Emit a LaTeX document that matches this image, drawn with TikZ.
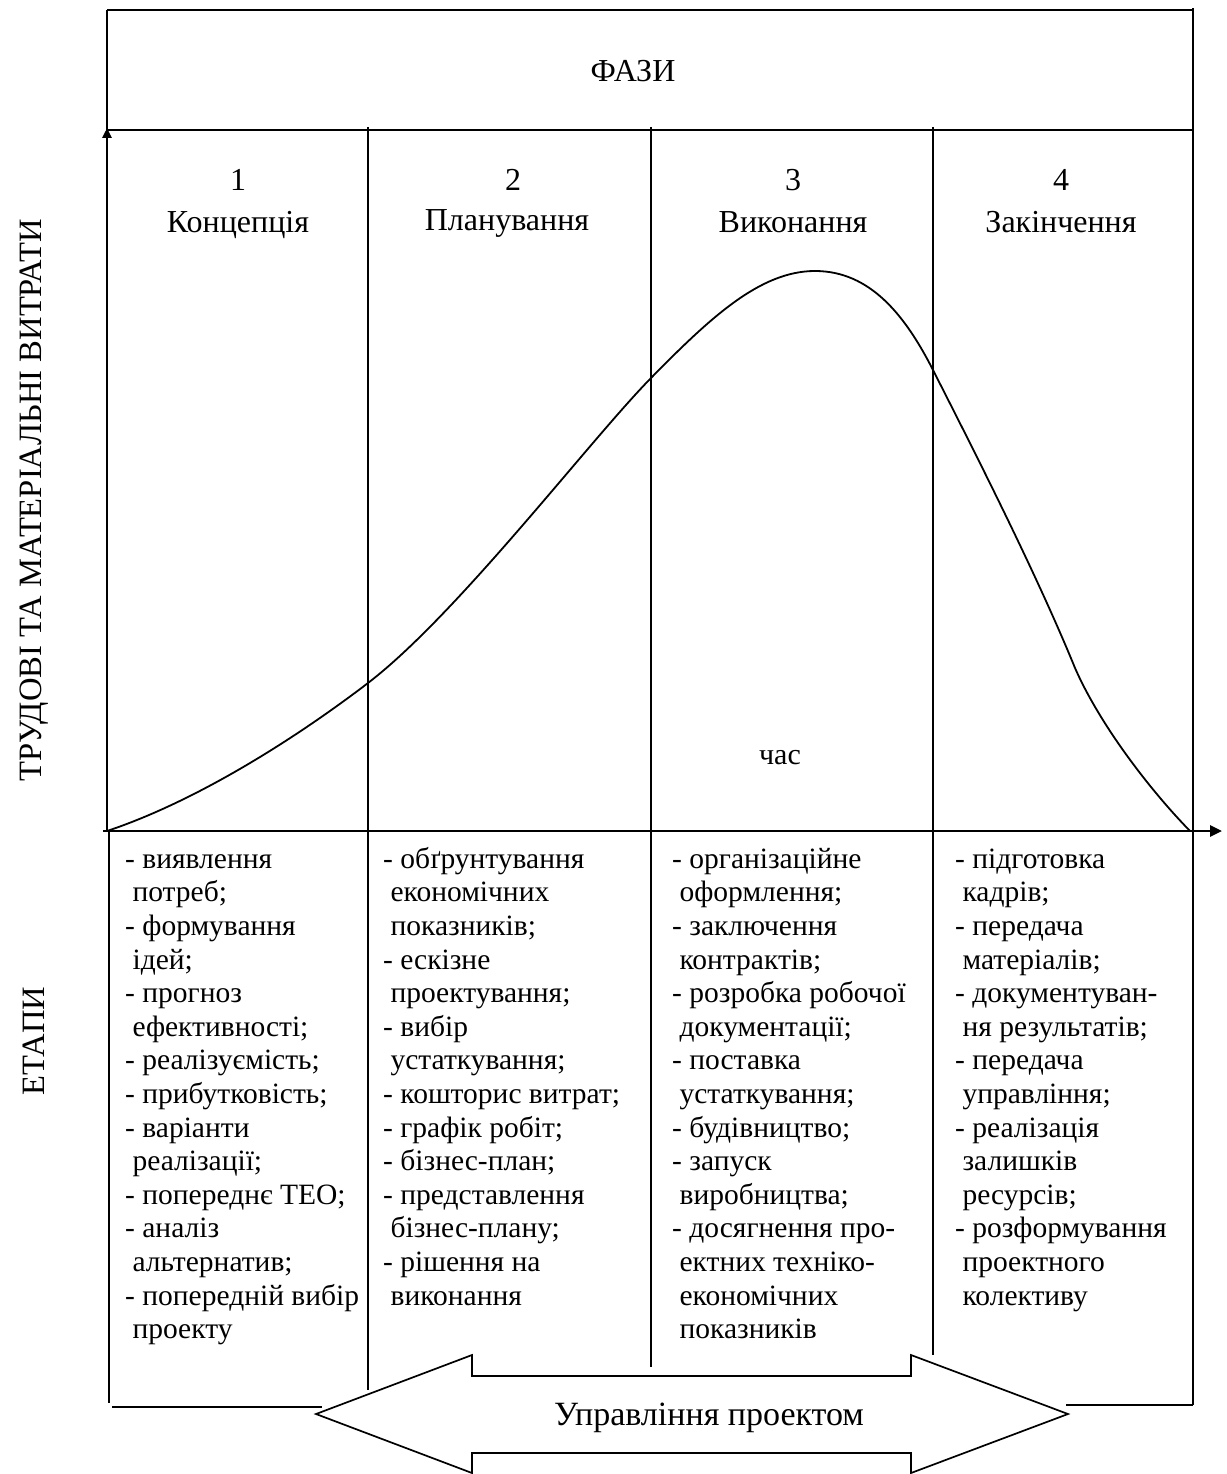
\documentclass[tikz,border=0pt]{standalone}
\usepackage{fontspec}
\setmainfont{Liberation Serif}
\usetikzlibrary{arrows.meta}

% list line helpers: a bullet line and a continuation line
\newcommand\itm{\strut-\ }
\newcommand\cln{\strut\hspace*{0.25em}}

\begin{document}
\begin{tikzpicture}[x=1pt,y=-1pt,
  frame/.style={line width=1.7pt},
  axis/.style={line width=2.8pt},
  head/.style={font=\fontsize{32}{38}\selectfont, inner sep=0pt},
  lst/.style={font=\fontsize{29.5}{33.6}\selectfont, align=left, inner sep=0pt, anchor=north west},
  side/.style={font=\fontsize{32.6}{38}\selectfont, inner sep=0pt, rotate=90}]
\useasboundingbox (0,0) rectangle (1226,1474);

% key points of the chart
\coordinate (O)  at (107,831);
\coordinate (Ytop) at (107,128);
\coordinate (Xend) at (1222,831);
\coordinate (Peak) at (815,271);
\coordinate (End) at (1190,831);

% header box "ФАЗИ"
\draw[frame] (107,10) -- (1193,10);
\draw[frame] (107,10) -- (107,130);
\draw[frame] (107,130) -- (1193,130);
\draw[frame] (1193,8) -- (1193,1405);

% phase dividers
\draw[frame] (368,127) -- (368,1390);
\draw[frame] (651,127) -- (651,1367);
\draw[frame] (933,127) -- (933,1355);

% lower frame
\draw[frame] (109,831) -- (109,1403);
\draw[frame] (112,1407) -- (322,1407);
\draw[frame] (1066,1405) -- (1193,1405);

% axes
\draw[axis, -{Triangle[length=10pt,width=9pt]}] (O) -- (Ytop);
\draw[axis, -{Triangle[length=12pt,width=11pt]}] (103,831) -- (Xend);

% cost curve over the phases
\draw[line width=1.8pt] (O)
  .. controls (200,800) and (300,735) .. (368,683)
  .. controls (458,614) and (590,440) .. (651,378)
  .. controls (710,318) and (760,271) .. (Peak)
  .. controls (870,271) and (905,315) .. (933,370)
  .. controls (969,441) and (1035,570) .. (1075,668)
  .. controls (1100,725) and (1150,790) .. (End);

% double arrow "Управління проектом"
\draw[frame, line join=miter] (316,1414) -- (472,1355) -- (472,1376) -- (911,1376)
  -- (911,1355) -- (1068,1414) -- (911,1473) -- (911,1453) -- (472,1453)
  -- (472,1473) -- cycle;
\node[head, anchor=base, font=\fontsize{34}{40}\selectfont] (mgmt) at (709,1425) {Управління проектом};

% titles
\node[head, anchor=base] (phases) at (633,82) {ФАЗИ};
\node[head, anchor=base] (n1) at (238,190) {1};
\node[head, anchor=base] (p1) at (238,232) {Концепція};
\node[head, anchor=base] (n2) at (513,190) {2};
\node[head, anchor=base] (p2) at (507,230) {Планування};
\node[head, anchor=base] (n3) at (793,190) {3};
\node[head, anchor=base] (p3) at (793,232) {Виконання};
\node[head, anchor=base] (n4) at (1061,190) {4};
\node[head, anchor=base] (p4) at (1061,232) {Закінчення};
\node[head, anchor=base, font=\fontsize{30}{36}\selectfont] (time) at (780,764) {час};

% side labels
\node[side] (costs) at (34,500) {ТРУДОВІ ТА МАТЕРІАЛЬНІ ВИТРАТИ};
\node[side] (stages) at (34,1041) {ЕТАПИ};

% stage lists
\node[lst] (s1) at (125,844.5) {%
\itm виявлення\\ \cln потреб;\\ \itm формування\\ \cln ідей;\\
\itm прогноз\\ \cln ефективності;\\ \itm реалізуємість;\\ \itm прибутковість;\\
\itm варіанти\\ \cln реалізації;\\ \itm попереднє ТЕО;\\ \itm аналіз\\
\cln альтернатив;\\ \itm попередній вибір\\ \cln проекту};
\node[lst] (s2) at (383,844.5) {%
\itm обґрунтування\\ \cln економічних\\ \cln показників;\\ \itm ескізне\\
\cln проектування;\\ \itm вибір\\ \cln устаткування;\\ \itm кошторис витрат;\\
\itm графік робіт;\\ \itm бізнес-план;\\ \itm представлення\\ \cln бізнес-плану;\\
\itm рішення на\\ \cln виконання};
\node[lst] (s3) at (672,844.5) {%
\itm організаційне\\ \cln оформлення;\\ \itm заключення\\ \cln контрактів;\\
\itm розробка робочої\\ \cln документації;\\ \itm поставка\\ \cln устаткування;\\
\itm будівництво;\\ \itm запуск\\ \cln виробництва;\\ \itm досягнення про-\\
\cln ектних техніко-\\ \cln економічних\\ \cln показників};
\node[lst] (s4) at (955,844.5) {%
\itm підготовка\\ \cln кадрів;\\ \itm передача\\ \cln матеріалів;\\
\itm документуван-\\ \cln ня результатів;\\ \itm передача\\ \cln управління;\\
\itm реалізація\\ \cln залишків\\ \cln ресурсів;\\ \itm розформування\\
\cln проектного\\ \cln колективу};
\end{tikzpicture}
\end{document}
